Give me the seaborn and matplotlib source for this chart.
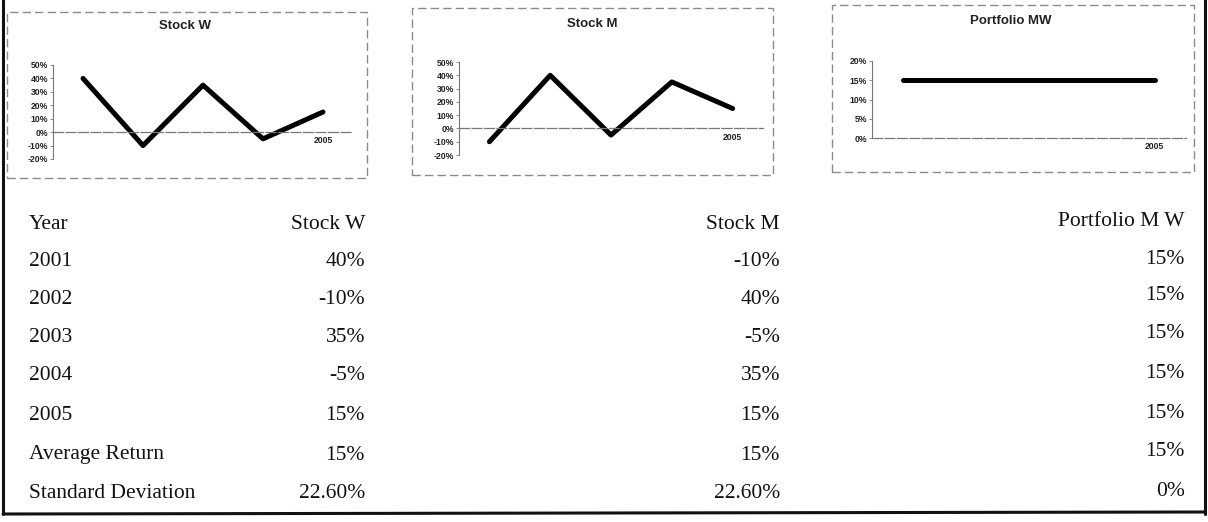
import numpy as np
import pandas as pd
import seaborn as sns
import matplotlib.pyplot as plt
from matplotlib.patches import Rectangle
from matplotlib.lines import Line2D
from matplotlib.ticker import FuncFormatter

# ------------------------------
# Data
# ------------------------------
years = [2001, 2002, 2003, 2004, 2005]
stock_w = [40, -10, 35, -5, 15]
stock_m = [-10, 40, -5, 35, 15]
portfolio_mw = [15, 15, 15, 15, 15]

series_names = ["Stock W", "Stock M", "Portfolio MW"]
table_header = ["Year", "Stock W", "Stock M", "Portfolio M W"]
summary_labels = ["Average Return", "Standard Deviation"]
summary_w = ["15%", "22.60%"]
summary_m = ["15%", "22.60%"]
summary_mw = ["15%", "0%"]

W, H = 1208, 522

sns.set_theme(style="white")
plt.rcParams['font.family'] = ['Liberation Sans', 'DejaVu Sans']

fig = plt.figure(figsize=(W / 100, H / 100), dpi=100)
fig.patch.set_facecolor("white")


def fx(px):
    return px / W


def fy(py):
    return 1 - py / H


def axes_box(left, right, top, bottom):
    return [fx(left), fy(bottom), fx(right - left), (bottom - top) / H]


pct = FuncFormatter(lambda v, _: f"{v:.0f}%")

# ------------------------------
# Mini line charts
# ------------------------------
charts = [
    # values, chart frame (l, t, r, b), axes (l, r, t, b), ylim, yticks, title pos
    (stock_w, (7, 12, 367, 178), (53, 353, 65, 159), (-20, 50), range(-20, 51, 10), (185, 26)),
    (stock_m, (412, 8, 773, 175), (459, 763, 62, 155), (-20, 50), range(-20, 51, 10), (592, 24)),
    (portfolio_mw, (832, 5, 1194, 172), (872, 1186, 61, 138), (0, 20), range(0, 21, 5), (1011, 21)),
]

for name, (vals, frame, box, ylim, yticks, tpos) in zip(series_names, charts):
    l, t, r, b = frame
    fig.patches.append(Rectangle((fx(l), fy(b)), fx(r - l), (b - t) / H,
                                 transform=fig.transFigure, fill=False,
                                 edgecolor="#8a8a8a", lw=1.0, ls=(0, (6, 3))))
    fig.text(fx(tpos[0]), fy(tpos[1]), name, ha="center", va="center",
             fontsize=9.5, fontweight="bold", color="#222222")

    ax = fig.add_axes(axes_box(*box))
    df = pd.DataFrame({"year": years, "ret": vals})
    sns.lineplot(data=df, x="year", y="ret", ax=ax, color="black", lw=3.6)
    ax.set_xlim(2000.5, 2005.5)
    ax.set_ylim(*ylim)
    ax.set_yticks(list(yticks))
    ax.yaxis.set_major_formatter(pct)
    ax.set_xticks([2005])
    ax.set_xticklabels(["2005"])
    ax.set_xlabel("")
    ax.set_ylabel("")
    ax.set_facecolor("none")
    for side in ["top", "right"]:
        ax.spines[side].set_visible(False)
    ax.spines["bottom"].set_position(("data", 0))
    ax.spines["bottom"].set_color("#777777")
    ax.spines["bottom"].set_linestyle((0, (8, 2)))
    ax.spines["bottom"].set_linewidth(0.9)
    ax.spines["left"].set_color("#777777")
    ax.spines["left"].set_linewidth(0.8)
    ax.tick_params(axis="y", length=2.5, width=0.6, color="#777777", pad=1,
                   labelsize=6.2, left=True)
    ax.tick_params(axis="x", length=0, pad=3, labelsize=6.2)
    for lab in ax.get_yticklabels() + ax.get_xticklabels():
        lab.set_fontweight("bold")
        lab.set_color("#222222")

# ------------------------------
# Table below the charts
# ------------------------------
row_y = [224, 262, 299, 337, 376, 416, 455, 494]
col_x = [29, 365, 780, 1185]
mw_shift = -3
serif = ['Liberation Serif', 'DejaVu Serif']
tsize = 15.5

fmt = lambda v: f"{v}%"
row_labels = [str(y) for y in years] + summary_labels
col_w = [fmt(v) for v in stock_w] + summary_w
col_m = [fmt(v) for v in stock_m] + summary_m
col_mw = [fmt(v) for v in portfolio_mw] + summary_mw

fig.text(fx(col_x[0]), fy(row_y[0]), table_header[0], ha="left", va="center",
         fontsize=tsize, family=serif, color="#111111")
fig.text(fx(col_x[1]), fy(row_y[0]), table_header[1], ha="right", va="center",
         fontsize=tsize, family=serif, color="#111111")
fig.text(fx(col_x[2]), fy(row_y[0]), table_header[2], ha="right", va="center",
         fontsize=tsize, family=serif, color="#111111")
fig.text(fx(col_x[3]), fy(row_y[0] + mw_shift), table_header[3], ha="right",
         va="center", fontsize=tsize, family=serif, color="#111111")

for i, y in enumerate(row_y[1:]):
    fig.text(fx(col_x[0]), fy(y), row_labels[i], ha="left", va="center",
             fontsize=tsize, family=serif, color="#111111")
    fig.text(fx(col_x[1]), fy(y), col_w[i], ha="right", va="center",
             fontsize=tsize, family=serif, color="#111111")
    fig.text(fx(col_x[2]), fy(y), col_m[i], ha="right", va="center",
             fontsize=tsize, family=serif, color="#111111")
    fig.text(fx(col_x[3]), fy(y + mw_shift), col_mw[i], ha="right", va="center",
             fontsize=tsize, family=serif, color="#111111")

# outer frame (left, right, bottom)
frame_kw = dict(transform=fig.transFigure, color="#111111", lw=2.2)
fig.lines.append(Line2D([fx(3), fx(3)], [fy(0), fy(514)], **frame_kw))
fig.lines.append(Line2D([fx(1205), fx(1205)], [fy(0), fy(514)], **frame_kw))
fig.lines.append(Line2D([fx(3), fx(1205)], [fy(514), fy(512)], **frame_kw))

fig.savefig("out.png", dpi=100, facecolor="white")
